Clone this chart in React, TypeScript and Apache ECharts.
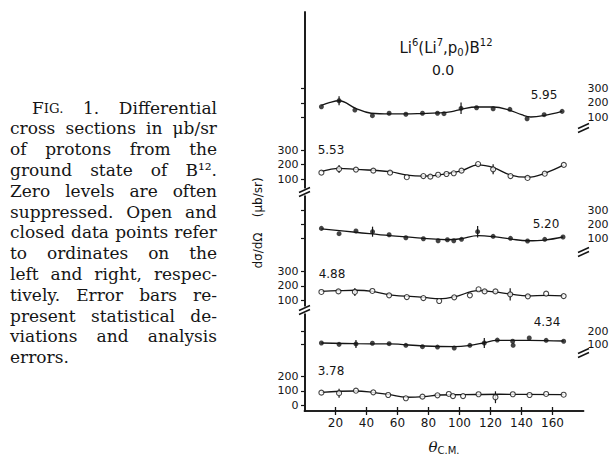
import React, { useEffect, useRef } from "react";
import * as echarts from "echarts";

// ---------- data ----------
const angleTicks = [20, 40, 60, 80, 100, 120, 140, 160];
const levels = ["5.95", "5.53", "5.20", "4.88", "4.34", "3.78"];

// measured points [theta_cm, dσ/dΩ]
const pts595 = [[10.9,173],[22.3,214],[32.5,150],[43.8,111],[54.6,128],[65.4,121],[76.1,128],[85.8,128],[90,125],[101,162],[111,166],[121.7,159],[132.5,155],[143.6,90],[154.6,118],[166.2,141]];
const pts553 = [[10.9,145],[22.3,170],[33.2,166],[44.4,159],[55.2,145],[66,114],[76.7,122],[81.2,118],[86.2,131],[91.6,136],[96.3,141],[101.3,159],[112,204],[121.7,168],[132.9,122],[143.9,109],[155,138],[167.3,198]];
const pts520 = [[10.9,172],[22.3,135],[33.2,154],[43.9,149],[54.6,128],[65.4,107],[76.7,100],[86.2,86],[92.2,93],[96.3,86],[101.3,96],[111.7,149],[121.7,117],[132.9,103],[143.9,84],[155,96],[166.8,112]];
const pts488 = [[10.9,157],[21.9,161],[32.5,157],[43.8,164],[54.6,133],[66,121],[76.7,114],[86.9,93],[96.6,119],[106.7,133],[112.3,176],[116.2,161],[123.2,161],[132.7,140],[144.1,126],[155.9,145],[167.2,128]];
const pts434 = [[10.9,111],[22.3,101],[33.2,104],[43.8,109],[54.6,106],[65.4,94],[76.1,84],[85.8,81],[96.6,74],[106.7,94],[116,111],[124.4,133],[134.3,124],[134.6,94],[145,148],[155.9,131],[167.2,124]];
const pts378 = [[10.9,88],[22.3,84],[33.2,101],[44.4,90],[54,72],[65.4,50],[76.1,61],[85.8,70],[93.1,79],[95.8,65],[102.3,65],[112.3,77],[123.2,57],[134.4,77],[145.2,72],[155.9,79],[167.2,74]];

// fitted curves
const fit595 = [[10.9,182],[16.5,203],[22.3,214],[33,162],[43,128],[55,123],[65,123],[76,126],[86,130],[95,139],[101,155],[111,171],[122,171],[132,150],[140,118],[146,102],[154,111],[166.2,141]];
const fit553 = [[10.9,152],[16,166],[22.3,175],[33,168],[55,152],[66,129],[77,122],[86.5,129],[101,157],[112,198],[122,179],[133,129],[144,114],[155,141],[167.3,198]];
const fit520 = [[10.9,168],[33,145],[55,121],[77,103],[92,93],[101,100],[112,121],[122,114],[133,98],[144,86],[155,91],[166.8,112]];
const fit488 = [[10.9,161],[22,166],[33,169],[44,161],[55,137],[77,119],[87,109],[97,123],[112,166],[123,157],[133,142],[144,130],[156,133],[167.2,130]];
const fit434 = [[10.9,111],[33,106],[55,104],[77,89],[97,84],[107,94],[116,113],[124,131],[145,131],[167.2,126]];
const fit378 = [[10.9,90],[33,99],[44,90],[55,74],[66,57],[77,61],[87,72],[102,74],[126,77],[167.2,74]];

// error bars [theta, value, half-length]
const err595 = [[22.3,214,31],[101,162,40]];
const err553 = [[22.3,170,28],[121.7,168,34]];
const err520 = [[43.9,149,35],[111.7,149,40]];
const err488 = [[32.5,157,28],[132.7,140,43]];
const err434 = [[33.2,104,30],[116,111,37]];
const err378 = [[22.3,84,30],[123.2,57,40]];

// ordinate tick labels
const ticks595 = [100, 200, 300];
const ticks553 = [100, 200, 300];
const ticks520 = [100, 200, 300];
const ticks488 = [100, 200, 300];
const ticks434 = [100, 200];
const ticks378 = [0, 100, 200];

const captionLines = [
  "FIG. 1. Differential",
  "cross sections in μb/sr",
  "of protons from the",
  "ground state of B¹².",
  "Zero levels are often",
  "suppressed. Open and",
  "closed data points refer",
  "to ordinates on the",
  "left and right, respec-",
  "tively. Error bars re-",
  "present statistical de-",
  "viations and analysis",
  "errors.",
];

// ---------- layout ----------
const PLOT_LEFT = 304.5;
const PLOT_W = 279;
const PLOT_TOP = 12;
const PLOT_H = 410;
const INK = "#151515";
const SANS = "DejaVu Sans";
const SERIF = "DejaVu Serif";

const panels = [
  { pts: pts595, fit: fit595, err: err595, ticks: ticks595, side: "right", filled: true, top: 88.3, h: 43.5, max: 300, lab: [544, 94.5] },
  { pts: pts553, fit: fit553, err: err553, ticks: ticks553, side: "left", filled: false, top: 150, h: 43.9, max: 300, lab: [331, 150] },
  { pts: pts520, fit: fit520, err: err520, ticks: ticks520, side: "right", filled: true, top: 210, h: 43.1, max: 300, lab: [546, 224] },
  { pts: pts488, fit: fit488, err: err488, ticks: ticks488, side: "left", filled: false, top: 271.7, h: 42.5, max: 300, lab: [332, 274] },
  { pts: pts434, fit: fit434, err: err434, ticks: ticks434, side: "right", filled: true, top: 331, h: 27, max: 200, lab: [547, 322] },
  { pts: pts378, fit: fit378, err: err378, ticks: ticks378, side: "left", filled: false, top: 376, h: 29.7, max: 200, lab: [331, 371] },
];

const leftBreaks = [192, 310];
const rightBreaks = [128, 252, 353];

function measure(text: string, font: string): number {
  const c = document.createElement("canvas").getContext("2d");
  if (!c) return text.length * 8;
  c.font = font;
  return c.measureText(text).width;
}

function captionGraphics(): any[] {
  const right = 217;
  // size the serif so the tightest line fills the column
  const ref100 = measure("closed data points refer", `100px "${SERIF}"`);
  let fs = ref100 > 0 ? (205 / ref100) * 100 : 17;
  fs = Math.max(14, Math.min(21, fs));
  const font = `${fs}px "${SERIF}"`;
  const scFont = `${fs * 0.78}px "${SERIF}"`;
  const els: any[] = [];
  captionLines.forEach((line, i) => {
    const x0 = i === 0 ? 32 : 10;
    const y = 107.5 + i * 20.8;
    const words = line.split(" ");
    const widths = words.map((w) => (w === "FIG." ? measure("F", font) + measure("IG.", scFont) : measure(w, font)));
    const total = widths.reduce((a, b) => a + b, 0);
    const last = i === captionLines.length - 1;
    const gap = last || words.length < 2 ? measure(" ", font) : Math.max(2, (right - x0 - total) / (words.length - 1));
    let x = x0;
    words.forEach((w, k) => {
      if (w === "FIG.") {
        els.push({
          type: "text", x, y, z: 50,
          style: {
            text: "{a|F}{b|IG.}", verticalAlign: "middle", fill: INK,
            rich: { a: { fontSize: fs, fontFamily: SERIF, fill: INK }, b: { fontSize: fs * 0.78, fontFamily: SERIF, fill: INK, padding: [2, 0, 0, 0] } },
          },
        });
      } else {
        els.push({ type: "text", x, y, z: 50, style: { text: w, font, fill: INK, verticalAlign: "middle" } });
      }
      x += widths[k] + gap;
    });
  });
  return els;
}

function breakMarks(x: number, y: number): any[] {
  return [
    { type: "rect", z: 60, shape: { x: x - 3, y: y - 3.5, width: 6, height: 7 }, style: { fill: "#fff" } },
    { type: "line", z: 61, shape: { x1: x - 5.5, y1: y + 0.5, x2: x + 5.5, y2: y - 4.5 }, style: { stroke: INK, lineWidth: 1.5 } },
    { type: "line", z: 61, shape: { x1: x - 5.5, y1: y + 4.5, x2: x + 5.5, y2: y - 0.5 }, style: { stroke: INK, lineWidth: 1.5 } },
  ];
}

export default function App() {
  const ref = useRef<HTMLDivElement>(null);
  useEffect(() => {
    if (!ref.current) return;
    const chart = echarts.init(ref.current, null, { renderer: "svg" });

    const grids: any[] = [{ left: PLOT_LEFT, top: PLOT_TOP, width: PLOT_W, height: PLOT_H, show: false }];
    const xAxes: any[] = [
      {
        gridIndex: 0, type: "value", min: 0, max: 180, position: "bottom",
        axisLine: { lineStyle: { color: INK, width: 1.6 } },
        axisTick: { inside: true, length: 4, lineStyle: { color: INK, width: 1.3 }, customValues: angleTicks },
        axisLabel: { customValues: angleTicks, color: INK, fontSize: 12, fontFamily: SANS, margin: 6 },
        splitLine: { show: false },
        name: "{t|θ}{s|C.M.}", nameLocation: "middle", nameGap: 27,
        nameTextStyle: { rich: { t: { fontSize: 15, fontFamily: SERIF, fontStyle: "italic", color: INK }, s: { fontSize: 10, fontFamily: SANS, color: INK, padding: [7, 0, 0, 0] } } },
      },
      {
        gridIndex: 0, type: "value", min: 0, max: 180, position: "top",
        axisLine: { lineStyle: { color: INK, width: 1.6 } },
        axisTick: { inside: true, length: 4, lineStyle: { color: INK, width: 1.3 }, customValues: angleTicks },
        axisLabel: { show: false },
        splitLine: { show: false },
      },
    ];
    const yAxes: any[] = [
      { gridIndex: 0, type: "value", min: 0, max: 1, position: "left", axisLine: { show: true, lineStyle: { color: INK, width: 1.6 } }, axisTick: { show: false }, axisLabel: { show: false }, splitLine: { show: false } },
      { gridIndex: 0, type: "value", min: 0, max: 1, position: "right", axisLine: { show: true, lineStyle: { color: INK, width: 1.6 } }, axisTick: { show: false }, axisLabel: { show: false }, splitLine: { show: false } },
    ];
    const series: any[] = [];
    const graphics: any[] = [];

    panels.forEach((p, k) => {
      const gi = k + 1;
      grids.push({ left: PLOT_LEFT, top: p.top, width: PLOT_W, height: p.h, show: false });
      xAxes.push({ gridIndex: gi, type: "value", min: 0, max: 180, show: false });
      yAxes.push({
        gridIndex: gi, type: "value", min: 0, max: p.max, position: p.side,
        axisLine: { show: false },
        axisTick: { show: true, inside: p.side === "right", length: 3.5, customValues: p.ticks, lineStyle: { color: INK, width: 1.2 } },
        axisLabel: { customValues: p.ticks, color: INK, fontSize: 11, fontFamily: SANS, margin: p.side === "right" ? 4 : 6 },
        splitLine: { show: false },
      });
      series.push({
        type: "line", xAxisIndex: gi + 1, yAxisIndex: gi + 1, data: p.fit, smooth: 0.4,
        showSymbol: false, clip: false, silent: true, z: 2,
        lineStyle: { color: INK, width: 1.3 },
      });
      series.push({
        type: "custom", xAxisIndex: gi + 1, yAxisIndex: gi + 1, data: p.err, z: 3, silent: true, clip: false,
        renderItem: (_params: any, api: any) => {
          const x = api.value(0), y = api.value(1), e = api.value(2);
          const a = api.coord([x, y - e]);
          const b = api.coord([x, y + e]);
          return { type: "line", shape: { x1: a[0], y1: a[1], x2: b[0], y2: b[1] }, style: { stroke: INK, lineWidth: 1.2 } };
        },
      });
      series.push({
        type: "scatter", xAxisIndex: gi + 1, yAxisIndex: gi + 1, data: p.pts, z: 4, silent: true, clip: false,
        symbol: "circle", symbolSize: p.filled ? 5 : 5,
        itemStyle: p.filled ? { color: INK } : { color: "#fff", borderColor: INK, borderWidth: 1.1 },
      });
      graphics.push({
        type: "text", x: p.lab[0], y: p.lab[1], z: 50,
        style: { text: levels[k], fontSize: 12, fontFamily: SANS, fill: INK, align: "center", verticalAlign: "middle" },
      });
    });

    leftBreaks.forEach((y) => graphics.push(...breakMarks(PLOT_LEFT, y)));
    rightBreaks.forEach((y) => graphics.push(...breakMarks(PLOT_LEFT + PLOT_W, y)));

    graphics.push({
      type: "text", x: 446, y: 48, z: 50,
      style: {
        text: "{m|Li}{u|6}{m|(Li}{u|7}{m|,p}{d|0}{m|)B}{u|12}",
        align: "center", verticalAlign: "middle",
        rich: {
          m: { fontSize: 15, fontFamily: SANS, fill: INK },
          u: { fontSize: 10, fontFamily: SANS, fill: INK, padding: [0, 0, 12, 0] },
          d: { fontSize: 10, fontFamily: SANS, fill: INK, padding: [9, 0, 0, 0] },
        },
      },
    });
    graphics.push({ type: "text", x: 443, y: 70, z: 50, style: { text: "0.0", fontSize: 14, fontFamily: SANS, fill: INK, align: "center", verticalAlign: "middle" } });
    graphics.push({
      type: "text", x: 258, y: 223, z: 50, rotation: Math.PI / 2,
      style: { text: "dσ/dΩ    (μb/sr)", fontSize: 12, fontFamily: SANS, fill: INK, align: "center", verticalAlign: "middle" },
    });
    graphics.push(...captionGraphics());

    chart.setOption({
      animation: false,
      backgroundColor: "#fff",
      grid: grids,
      xAxis: xAxes,
      yAxis: yAxes,
      series,
      graphic: { elements: graphics },
    });
    return () => chart.dispose();
  }, []);
  return <div ref={ref} style={{ position: "fixed", left: 0, top: 0, width: 612, height: 460, background: "#fff" }} />;
}
